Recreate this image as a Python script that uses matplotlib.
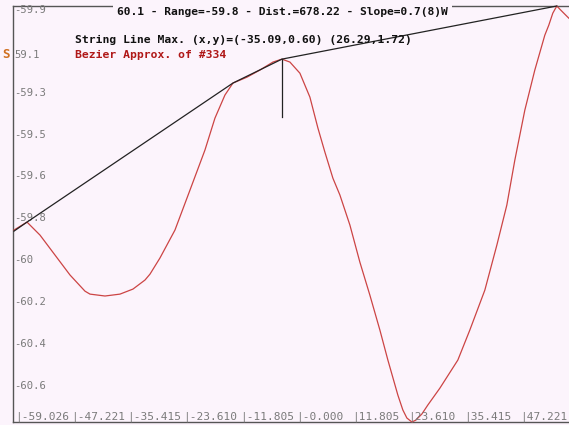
import matplotlib
matplotlib.use("Agg")
import matplotlib.pyplot as plt
import matplotlib.transforms as mtransforms

# ---- data ----
curve_x = [-59.24, -56.505, -53.774, -50.623, -47.471, -44.320, -43.270, -40.118, -36.967,
           -34.237, -31.715, -30.665, -28.564, -25.413, -22.262, -19.110, -17.009, -14.908,
           -13.228, -10.287, -7.556, -4.825, -2.935, -1.254, 0.847, 1.898, 2.948, 4.628,
           6.100, 7.781, 9.250, 11.351, 13.452, 15.553, 17.653, 19.334, 21.435, 22.485,
           23.326, 24.376, 25.216, 26.477, 27.737, 30.258, 34.040, 36.561, 39.712, 42.233,
           44.334, 46.015, 48.116, 50.216, 52.317, 53.158, 53.998, 54.838, 55.469, 56.519,
           57.360]
curve_y = [-59.857, -59.819, -59.881, -59.976, -60.071, -60.148, -60.162, -60.171, -60.162,
           -60.138, -60.095, -60.067, -59.990, -59.857, -59.667, -59.476, -59.324, -59.214,
           -59.157, -59.129, -59.095, -59.057, -59.043, -59.057, -59.110, -59.167, -59.224,
           -59.371, -59.486, -59.610, -59.690, -59.833, -60.010, -60.167, -60.333, -60.476,
           -60.643, -60.714, -60.752, -60.771, -60.762, -60.733, -60.690, -60.610, -60.476,
           -60.333, -60.143, -59.929, -59.738, -59.524, -59.286, -59.095, -58.929, -58.881,
           -58.824, -58.790, -58.805, -58.829, -58.848]

string_x = [-59.24, -56.505, -13.228, -2.935, 54.838]
string_y = [-59.862, -59.819, -59.157, -59.043, -58.790]
max_x = -2.935
max_drop_y = [-59.043, -59.319]

xtick_vals = [-59.026, -47.221, -35.415, -23.610, -11.805, 0.0, 11.805, 23.610, 35.415, 47.221]
xtick_labels = ["|-59.026", "|-47.221", "|-35.415", "|-23.610", "|-11.805", "|-0.000",
                "|11.805", "|23.610", "|35.415", "|47.221"]
ytick_vals = [-58.810, -59.024, -59.205, -59.405, -59.600, -59.800, -60.0, -60.2, -60.4, -60.6]
ytick_labels = ["-59.9", "59.1", "-59.3", "-59.5", "-59.6", "-59.8", "-60", "-60.2", "-60.4", "-60.6"]

title = "60.1 - Range=-59.8 - Dist.=678.22 - Slope=0.7(8)W"
info1 = "String Line Max. (x,y)=(-35.09,0.60) (26.29,1.72)"
info2 = "Bezier Approx. of #334"

# ---- style ----
bg = "#fcf4fc"
W, H = 569, 425
fig = plt.figure(figsize=(W / 100, H / 100), dpi=100, facecolor=bg)
ax = fig.add_axes([13 / W, 3 / H, 1 - 13 / W, (422 - 6) / H])
ax.set_facecolor(bg)
ax.set_xlim(-59.45, 57.4)
ax.set_ylim(-60.771, -58.79)
ax.set_xticks([])
ax.set_yticks([])
ax.spines["right"].set_visible(False)
for s in ["left", "bottom", "top"]:
    ax.spines[s].set_color("#555555")
    ax.spines[s].set_linewidth(1.0)

ax.plot(curve_x, curve_y, color="#cc4444", lw=0.9, zorder=3, clip_on=False)
ax.plot(string_x, string_y, color="#222222", lw=0.9, zorder=4, clip_on=False)
ax.plot([max_x, max_x], max_drop_y, color="#222222", lw=0.9, zorder=4)

mono = "DejaVu Sans Mono"
tx = mtransforms.blended_transform_factory(ax.transData, ax.transAxes)
for v, lab in zip(xtick_vals, xtick_labels):
    ax.text(v, 0.013, lab, transform=tx, ha="left", va="center",
            family=mono, fontsize=8.0, color="#7a7a7a")
ty = mtransforms.blended_transform_factory(ax.transAxes, ax.transData)
for v, lab in zip(ytick_vals, ytick_labels):
    ax.text(0.003, v, lab, transform=ty, ha="left", va="center",
            family=mono, fontsize=7.6, color="#7a7a7a")

fig.text(6 / W, 1 - 55 / H, "S", ha="center", va="center", family=mono,
         fontsize=9, color="#d07020", fontweight="bold")

fig.text(117 / W, 1 - 12 / H, title, ha="left", va="center", family=mono,
         fontsize=8.1, fontweight="bold", color="#111111", zorder=10,
         bbox=dict(facecolor=bg, edgecolor="none", pad=3))
fig.text(75 / W, 1 - 40 / H, info1, ha="left", va="center", family=mono,
         fontsize=8.2, fontweight="bold", color="#111111", zorder=10)
fig.text(75 / W, 1 - 55 / H, info2, ha="left", va="center", family=mono,
         fontsize=8.2, fontweight="bold", color="#b01818", zorder=10)

fig.savefig("out.png", dpi=100, facecolor=bg)
